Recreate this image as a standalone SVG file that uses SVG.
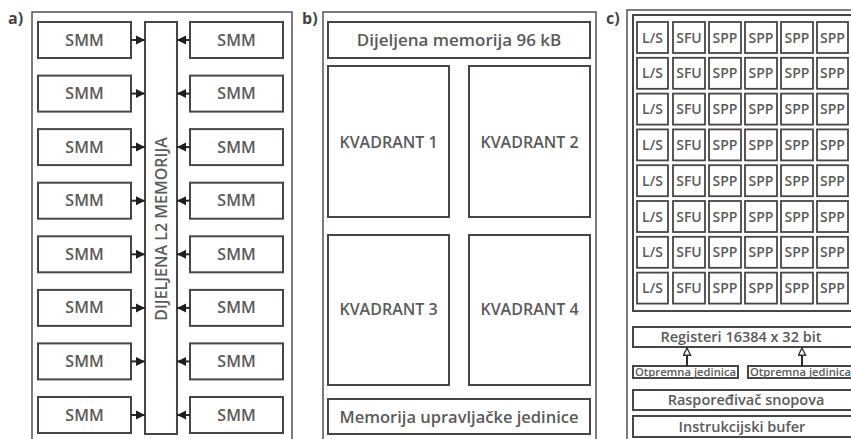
<svg xmlns="http://www.w3.org/2000/svg" width="851" height="439" viewBox="0 0 851 439">
<defs>
<style>
.frame{fill:#fff;stroke:#555050;stroke-width:1.5}
.box{fill:#fff;stroke:#4a4544;stroke-width:2}
.cell{fill:#fff;stroke:#4a4544;stroke-width:1.8}
.t{font-family:"Open Sans","Liberation Sans",sans-serif;fill:#5a5a5a;text-anchor:middle;font-weight:600}
.c{font-size:14px}
.s{font-size:16px}
.lbl{font-family:"Open Sans","Liberation Sans",sans-serif;fill:#444;font-size:16px;font-weight:700}
.conn{stroke:#2a2a2a;stroke-width:2;fill:none}
</style>
<marker id="ah" viewBox="0 0 10 10" refX="10" refY="5" markerWidth="9" markerHeight="10" markerUnits="userSpaceOnUse" orient="auto"><path d="M0,0L10,5L0,10z" fill="#1e1e1e"/></marker>
<marker id="ho" viewBox="0 0 10 10" refX="9" refY="5" markerWidth="9" markerHeight="9" markerUnits="userSpaceOnUse" orient="auto"><path d="M1,1L9,5L1,9z" fill="#fff" stroke="#333" stroke-width="1.5"/></marker>
</defs>
<rect width="851" height="439" fill="#fff"/>
<text class="lbl" x="8" y="24">a)</text>
<text class="lbl" x="302" y="24">b)</text>
<text class="lbl" x="606" y="24">c)</text>

<g id="panel-a">
<rect class="frame" x="32" y="12" width="260" height="440"/>
<g id="l2"><rect class="box" x="145" y="22" width="32" height="412"/>
<text class="t" font-size="16" transform="translate(167,229) rotate(-90)">DIJELJENA L2 MEMORIJA</text></g>
</g>
<g id="smm-left">
<g id="smmL1"><rect class="box" x="38" y="22" width="93" height="36"/><text class="t s" x="84.5" y="45.5">SMM</text></g>
<g id="smmL2"><rect class="box" x="38" y="75.6" width="93" height="36"/><text class="t s" x="84.5" y="99.1">SMM</text></g>
<g id="smmL3"><rect class="box" x="38" y="129.1" width="93" height="36"/><text class="t s" x="84.5" y="152.6">SMM</text></g>
<g id="smmL4"><rect class="box" x="38" y="182.7" width="93" height="36"/><text class="t s" x="84.5" y="206.2">SMM</text></g>
<g id="smmL5"><rect class="box" x="38" y="236.3" width="93" height="36"/><text class="t s" x="84.5" y="259.8">SMM</text></g>
<g id="smmL6"><rect class="box" x="38" y="289.9" width="93" height="36"/><text class="t s" x="84.5" y="313.4">SMM</text></g>
<g id="smmL7"><rect class="box" x="38" y="343.4" width="93" height="36"/><text class="t s" x="84.5" y="366.9">SMM</text></g>
<g id="smmL8"><rect class="box" x="38" y="397" width="93" height="36"/><text class="t s" x="84.5" y="420.5">SMM</text></g>
</g>
<g id="smm-right">
<g id="smmR1"><rect class="box" x="190" y="22" width="93" height="36"/><text class="t s" x="236.5" y="45.5">SMM</text></g>
<g id="smmR2"><rect class="box" x="190" y="75.6" width="93" height="36"/><text class="t s" x="236.5" y="99.1">SMM</text></g>
<g id="smmR3"><rect class="box" x="190" y="129.1" width="93" height="36"/><text class="t s" x="236.5" y="152.6">SMM</text></g>
<g id="smmR4"><rect class="box" x="190" y="182.7" width="93" height="36"/><text class="t s" x="236.5" y="206.2">SMM</text></g>
<g id="smmR5"><rect class="box" x="190" y="236.3" width="93" height="36"/><text class="t s" x="236.5" y="259.8">SMM</text></g>
<g id="smmR6"><rect class="box" x="190" y="289.9" width="93" height="36"/><text class="t s" x="236.5" y="313.4">SMM</text></g>
<g id="smmR7"><rect class="box" x="190" y="343.4" width="93" height="36"/><text class="t s" x="236.5" y="366.9">SMM</text></g>
<g id="smmR8"><rect class="box" x="190" y="397" width="93" height="36"/><text class="t s" x="236.5" y="420.5">SMM</text></g>
</g>

<g id="panel-b">
<rect class="frame" x="323" y="12" width="273" height="440"/>
<g id="shared"><rect class="box" x="328" y="22" width="262" height="36"/><text class="t" font-size="17" x="459" y="46">Dijeljena memorija 96 kB</text></g>
<g id="kv1"><rect class="box" x="328" y="66" width="121" height="151"/><text class="t" font-size="16" x="388.5" y="148">KVADRANT 1</text></g>
<g id="kv2"><rect class="box" x="469" y="66" width="121" height="151"/><text class="t" font-size="16" x="529.5" y="148">KVADRANT 2</text></g>
<g id="kv3"><rect class="box" x="328" y="235" width="121" height="150"/><text class="t" font-size="16" x="388.5" y="315">KVADRANT 3</text></g>
<g id="kv4"><rect class="box" x="469" y="235" width="121" height="150"/><text class="t" font-size="16" x="529.5" y="315">KVADRANT 4</text></g>
<g id="ctrlmem"><rect class="box" x="328" y="399" width="262" height="35"/><text class="t" font-size="16.5" x="459" y="423">Memorija upravljačke jedinice</text></g>
</g>

<g id="panel-c">
<rect class="frame" x="627" y="10" width="240" height="440"/>
<rect class="box" x="633" y="15" width="230" height="296"/>
</g>
<g id="cells">
<g id="row1"><rect class="cell" x="637" y="22" width="31" height="31"/><text class="t c" x="652.5" y="42.5">L/S</text><rect class="cell" x="673" y="22" width="32" height="31"/><text class="t c" x="689" y="42.5">SFU</text><rect class="cell" x="709" y="22" width="32" height="31"/><text class="t c" x="725" y="42.5">SPP</text><rect class="cell" x="745" y="22" width="32" height="31"/><text class="t c" x="761" y="42.5">SPP</text><rect class="cell" x="781" y="22" width="32" height="31"/><text class="t c" x="797" y="42.5">SPP</text><rect class="cell" x="817" y="22" width="31" height="31"/><text class="t c" x="832.5" y="42.5">SPP</text></g>
<g id="row2"><rect class="cell" x="637" y="57.8" width="31" height="31"/><text class="t c" x="652.5" y="78.3">L/S</text><rect class="cell" x="673" y="57.8" width="32" height="31"/><text class="t c" x="689" y="78.3">SFU</text><rect class="cell" x="709" y="57.8" width="32" height="31"/><text class="t c" x="725" y="78.3">SPP</text><rect class="cell" x="745" y="57.8" width="32" height="31"/><text class="t c" x="761" y="78.3">SPP</text><rect class="cell" x="781" y="57.8" width="32" height="31"/><text class="t c" x="797" y="78.3">SPP</text><rect class="cell" x="817" y="57.8" width="31" height="31"/><text class="t c" x="832.5" y="78.3">SPP</text></g>
<g id="row3"><rect class="cell" x="637" y="93.6" width="31" height="31"/><text class="t c" x="652.5" y="114.1">L/S</text><rect class="cell" x="673" y="93.6" width="32" height="31"/><text class="t c" x="689" y="114.1">SFU</text><rect class="cell" x="709" y="93.6" width="32" height="31"/><text class="t c" x="725" y="114.1">SPP</text><rect class="cell" x="745" y="93.6" width="32" height="31"/><text class="t c" x="761" y="114.1">SPP</text><rect class="cell" x="781" y="93.6" width="32" height="31"/><text class="t c" x="797" y="114.1">SPP</text><rect class="cell" x="817" y="93.6" width="31" height="31"/><text class="t c" x="832.5" y="114.1">SPP</text></g>
<g id="row4"><rect class="cell" x="637" y="129.4" width="31" height="31"/><text class="t c" x="652.5" y="149.9">L/S</text><rect class="cell" x="673" y="129.4" width="32" height="31"/><text class="t c" x="689" y="149.9">SFU</text><rect class="cell" x="709" y="129.4" width="32" height="31"/><text class="t c" x="725" y="149.9">SPP</text><rect class="cell" x="745" y="129.4" width="32" height="31"/><text class="t c" x="761" y="149.9">SPP</text><rect class="cell" x="781" y="129.4" width="32" height="31"/><text class="t c" x="797" y="149.9">SPP</text><rect class="cell" x="817" y="129.4" width="31" height="31"/><text class="t c" x="832.5" y="149.9">SPP</text></g>
<g id="row5"><rect class="cell" x="637" y="165.2" width="31" height="31"/><text class="t c" x="652.5" y="185.7">L/S</text><rect class="cell" x="673" y="165.2" width="32" height="31"/><text class="t c" x="689" y="185.7">SFU</text><rect class="cell" x="709" y="165.2" width="32" height="31"/><text class="t c" x="725" y="185.7">SPP</text><rect class="cell" x="745" y="165.2" width="32" height="31"/><text class="t c" x="761" y="185.7">SPP</text><rect class="cell" x="781" y="165.2" width="32" height="31"/><text class="t c" x="797" y="185.7">SPP</text><rect class="cell" x="817" y="165.2" width="31" height="31"/><text class="t c" x="832.5" y="185.7">SPP</text></g>
<g id="row6"><rect class="cell" x="637" y="201" width="31" height="31"/><text class="t c" x="652.5" y="221.5">L/S</text><rect class="cell" x="673" y="201" width="32" height="31"/><text class="t c" x="689" y="221.5">SFU</text><rect class="cell" x="709" y="201" width="32" height="31"/><text class="t c" x="725" y="221.5">SPP</text><rect class="cell" x="745" y="201" width="32" height="31"/><text class="t c" x="761" y="221.5">SPP</text><rect class="cell" x="781" y="201" width="32" height="31"/><text class="t c" x="797" y="221.5">SPP</text><rect class="cell" x="817" y="201" width="31" height="31"/><text class="t c" x="832.5" y="221.5">SPP</text></g>
<g id="row7"><rect class="cell" x="637" y="236.8" width="31" height="31"/><text class="t c" x="652.5" y="257.3">L/S</text><rect class="cell" x="673" y="236.8" width="32" height="31"/><text class="t c" x="689" y="257.3">SFU</text><rect class="cell" x="709" y="236.8" width="32" height="31"/><text class="t c" x="725" y="257.3">SPP</text><rect class="cell" x="745" y="236.8" width="32" height="31"/><text class="t c" x="761" y="257.3">SPP</text><rect class="cell" x="781" y="236.8" width="32" height="31"/><text class="t c" x="797" y="257.3">SPP</text><rect class="cell" x="817" y="236.8" width="31" height="31"/><text class="t c" x="832.5" y="257.3">SPP</text></g>
<g id="row8"><rect class="cell" x="637" y="272.6" width="31" height="31"/><text class="t c" x="652.5" y="293.1">L/S</text><rect class="cell" x="673" y="272.6" width="32" height="31"/><text class="t c" x="689" y="293.1">SFU</text><rect class="cell" x="709" y="272.6" width="32" height="31"/><text class="t c" x="725" y="293.1">SPP</text><rect class="cell" x="745" y="272.6" width="32" height="31"/><text class="t c" x="761" y="293.1">SPP</text><rect class="cell" x="781" y="272.6" width="32" height="31"/><text class="t c" x="797" y="293.1">SPP</text><rect class="cell" x="817" y="272.6" width="31" height="31"/><text class="t c" x="832.5" y="293.1">SPP</text></g>
</g>
<g id="registers"><rect class="box" x="633" y="327" width="230" height="20"/><text class="t" font-size="14.5" x="741" y="342">Registeri 16384 x 32 bit</text></g>
<g id="disp1"><rect class="box" x="633" y="366" width="105" height="12"/><text class="t" font-size="11" x="685.5" y="376" textLength="101" lengthAdjust="spacingAndGlyphs">Otpremna jedinica</text></g>
<g id="disp2"><rect class="box" x="748" y="366" width="105" height="12"/><text class="t" font-size="11" x="800.5" y="376" textLength="101" lengthAdjust="spacingAndGlyphs">Otpremna jedinica</text></g>
<g id="scheduler"><rect class="box" x="633" y="390" width="230" height="20"/><text class="t" font-size="14.5" x="746" y="405">Raspoređivač snopova</text></g>
<g id="ibuf"><rect class="box" x="633" y="416" width="230" height="21"/><text class="t" font-size="14.5" x="742" y="431.5">Instrukcijski bufer</text></g>

<g id="connectors">
<line class="conn" x1="131" y1="40" x2="145" y2="40" marker-end="url(#ah)"/>
<line class="conn" x1="131" y1="93.6" x2="145" y2="93.6" marker-end="url(#ah)"/>
<line class="conn" x1="131" y1="147.1" x2="145" y2="147.1" marker-end="url(#ah)"/>
<line class="conn" x1="131" y1="200.7" x2="145" y2="200.7" marker-end="url(#ah)"/>
<line class="conn" x1="131" y1="254.3" x2="145" y2="254.3" marker-end="url(#ah)"/>
<line class="conn" x1="131" y1="307.9" x2="145" y2="307.9" marker-end="url(#ah)"/>
<line class="conn" x1="131" y1="361.4" x2="145" y2="361.4" marker-end="url(#ah)"/>
<line class="conn" x1="131" y1="415" x2="145" y2="415" marker-end="url(#ah)"/>
<line class="conn" x1="190" y1="40" x2="177" y2="40" marker-end="url(#ah)"/>
<line class="conn" x1="190" y1="93.6" x2="177" y2="93.6" marker-end="url(#ah)"/>
<line class="conn" x1="190" y1="147.1" x2="177" y2="147.1" marker-end="url(#ah)"/>
<line class="conn" x1="190" y1="200.7" x2="177" y2="200.7" marker-end="url(#ah)"/>
<line class="conn" x1="190" y1="254.3" x2="177" y2="254.3" marker-end="url(#ah)"/>
<line class="conn" x1="190" y1="307.9" x2="177" y2="307.9" marker-end="url(#ah)"/>
<line class="conn" x1="190" y1="361.4" x2="177" y2="361.4" marker-end="url(#ah)"/>
<line class="conn" x1="190" y1="415" x2="177" y2="415" marker-end="url(#ah)"/>
<line class="conn" x1="687" y1="366" x2="687" y2="348" marker-end="url(#ho)"/>
<line class="conn" x1="802" y1="366" x2="802" y2="348" marker-end="url(#ho)"/>
</g>
</svg>
